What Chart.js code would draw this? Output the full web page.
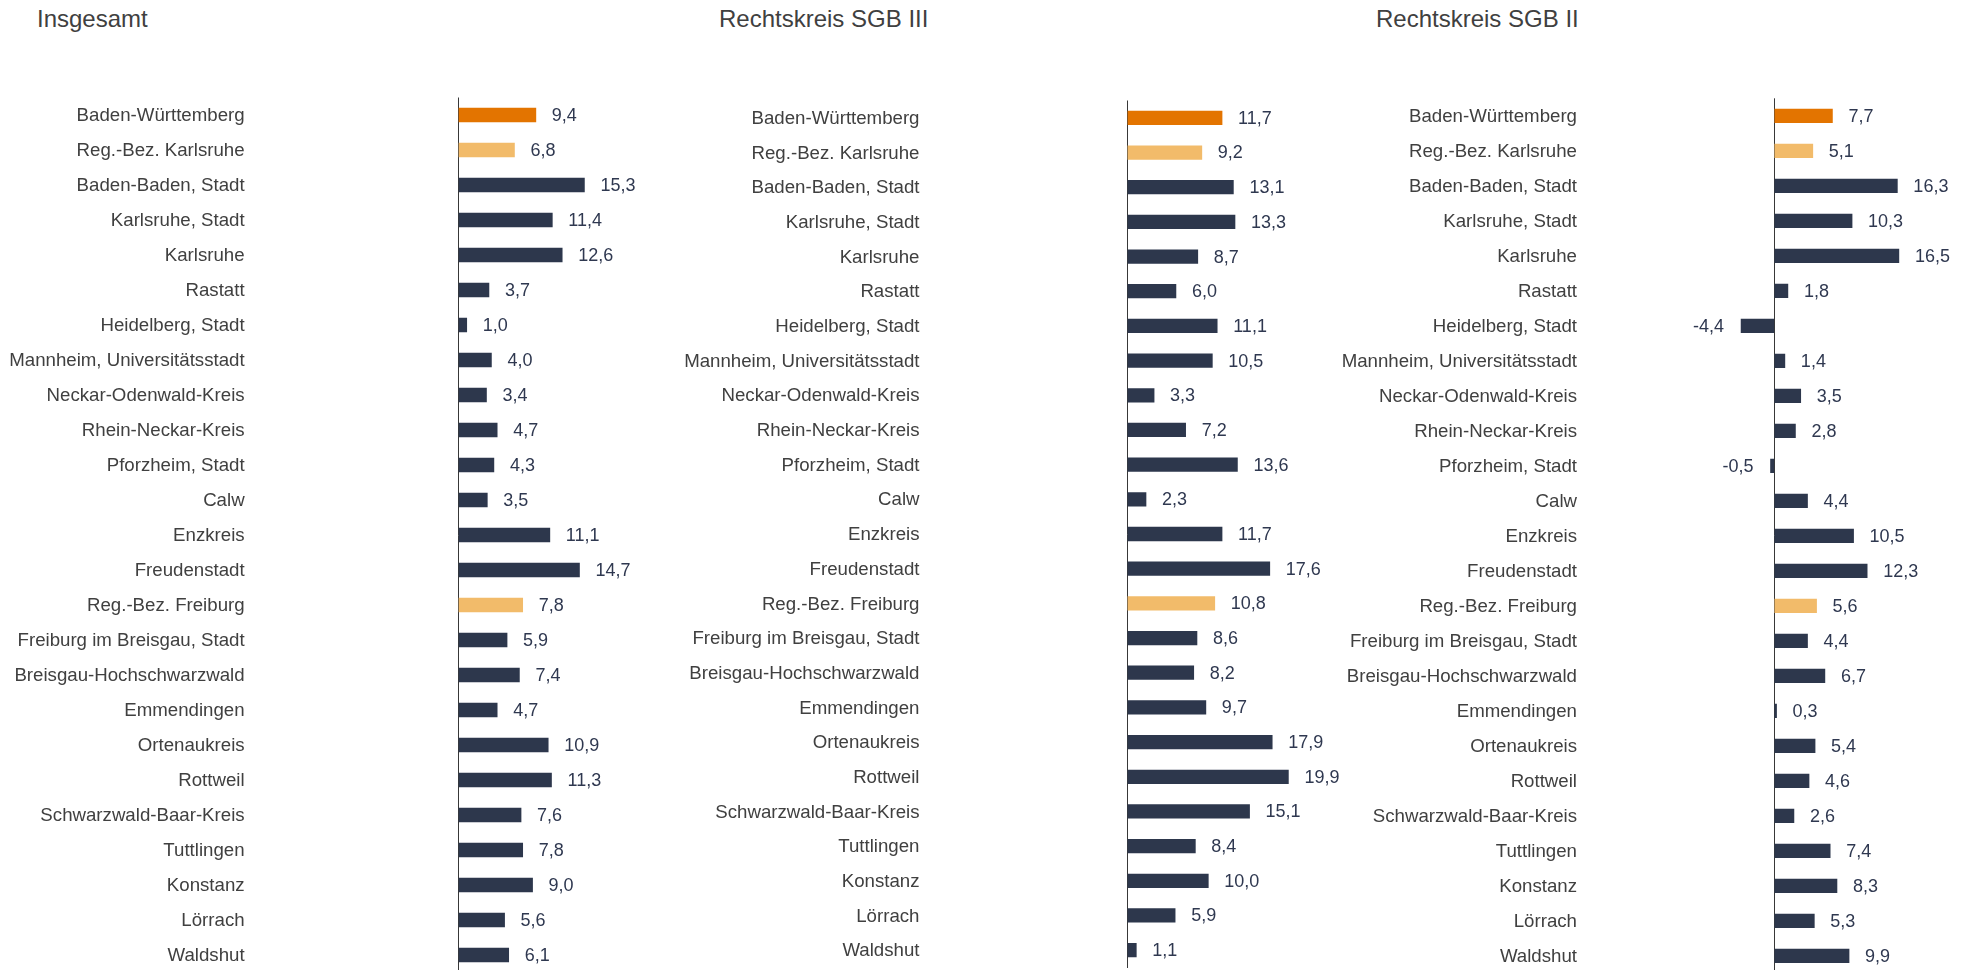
<!DOCTYPE html>
<html lang="de">
<head>
<meta charset="utf-8">
<title>Veränderung nach Rechtskreis</title>
<script src="https://cdn.jsdelivr.net/npm/chart.js@4.4.1/dist/chart.umd.min.js"></script>
<style>
  html, body { margin: 0; padding: 0; background: #ffffff; overflow: hidden; }
  #page { position: relative; width: 1967px; height: 970px; overflow: hidden; }
  canvas { position: absolute; left: 0; top: 0; }
  .title {
    position: absolute; top: 7px; margin: 0;
    font-family: "Liberation Sans", Arial, sans-serif;
    font-size: 24px; line-height: 24px; font-weight: normal;
    color: #404040; white-space: nowrap;
  }
</style>
</head>
<body>
<div id="page">
  <div class="title" style="left:37px">Insgesamt</div>
  <div class="title" style="left:719px">Rechtskreis SGB III</div>
  <div class="title" style="left:1376px">Rechtskreis SGB II</div>
  <canvas id="cInsgesamt" width="1967" height="1000"></canvas>
  <canvas id="cSgb3" width="1967" height="1000"></canvas>
  <canvas id="cSgb2" width="1967" height="1000"></canvas>
</div>
<script>
// Regions (rows, top to bottom)
const regions = [
  "Baden-Württemberg",
  "Reg.-Bez. Karlsruhe",
  "Baden-Baden, Stadt",
  "Karlsruhe, Stadt",
  "Karlsruhe",
  "Rastatt",
  "Heidelberg, Stadt",
  "Mannheim, Universitätsstadt",
  "Neckar-Odenwald-Kreis",
  "Rhein-Neckar-Kreis",
  "Pforzheim, Stadt",
  "Calw",
  "Enzkreis",
  "Freudenstadt",
  "Reg.-Bez. Freiburg",
  "Freiburg im Breisgau, Stadt",
  "Breisgau-Hochschwarzwald",
  "Emmendingen",
  "Ortenaukreis",
  "Rottweil",
  "Schwarzwald-Baar-Kreis",
  "Tuttlingen",
  "Konstanz",
  "Lörrach",
  "Waldshut"
];

// Change in percent
const insgesamt = [9.4, 6.8, 15.3, 11.4, 12.6, 3.7, 1.0, 4.0, 3.4, 4.7, 4.3, 3.5, 11.1, 14.7,
                   7.8, 5.9, 7.4, 4.7, 10.9, 11.3, 7.6, 7.8, 9.0, 5.6, 6.1];
const sgb3 = [11.7, 9.2, 13.1, 13.3, 8.7, 6.0, 11.1, 10.5, 3.3, 7.2, 13.6, 2.3, 11.7, 17.6,
              10.8, 8.6, 8.2, 9.7, 17.9, 19.9, 15.1, 8.4, 10.0, 5.9, 1.1];
const sgb2 = [7.7, 5.1, 16.3, 10.3, 16.5, 1.8, -4.4, 1.4, 3.5, 2.8, -0.5, 4.4, 10.5, 12.3,
              5.6, 4.4, 6.7, 0.3, 5.4, 4.6, 2.6, 7.4, 8.3, 5.3, 9.9];

// Row roles: state total, administrative districts, districts
const stateRows = ["Baden-Württemberg"];
const districtRows = ["Reg.-Bez. Karlsruhe", "Reg.-Bez. Freiburg"];

const COLORS = { state: "#e37400", district: "#f2bb6a", county: "#2d374c" };
const FONT = "'Liberation Sans', Arial, sans-serif";
const CANVAS_W = 1967, CANVAS_H = 1000;

function barColor(label) {
  if (stateRows.includes(label)) return COLORS.state;
  if (districtRows.includes(label)) return COLORS.district;
  return COLORS.county;
}

// Writes the value next to each bar, German decimal comma
const valueLabels = {
  id: "valueLabels",
  afterDatasetsDraw(chart) {
    const ctx = chart.ctx;
    const data = chart.data.datasets[0].data;
    ctx.save();
    ctx.font = "18px " + FONT;
    ctx.fillStyle = "#2f3850";
    ctx.textBaseline = "middle";
    chart.getDatasetMeta(0).data.forEach((bar, i) => {
      const v = data[i];
      const txt = v.toFixed(1).replace(".", ",");
      if (v < 0) {
        ctx.textAlign = "right";
        ctx.fillText(txt, bar.x - 17, bar.y + 1);
      } else {
        ctx.textAlign = "left";
        ctx.fillText(txt, bar.x + 16, bar.y + 1);
      }
    });
    ctx.restore();
  }
};

function makePanel(id, values, geo) {
  const tickPad = 10;
  const yAxisWidth = geo.labelRight + tickPad;
  const areaLeft = yAxisWidth;
  const xMin = -(geo.zeroX - areaLeft) / geo.pxPerUnit;
  const areaRight = geo.zeroX + geo.xMax * geo.pxPerUnit;
  const padRight = CANVAS_W - areaRight;
  const padBottom = CANVAS_H - (geo.top + regions.length * geo.rowH);

  return new Chart(document.getElementById(id), {
    type: "bar",
    data: {
      labels: regions,
      datasets: [{
        data: values,
        backgroundColor: regions.map(barColor),
        borderWidth: 0,
        barThickness: 13.6
      }]
    },
    options: {
      indexAxis: "y",
      responsive: false,
      animation: false,
      devicePixelRatio: 1,
      layout: { padding: { top: geo.top, bottom: padBottom, left: 0, right: padRight } },
      plugins: { legend: { display: false }, tooltip: { enabled: false }, title: { display: false } },
      scales: {
        y: {
          type: "category",
          grid: { display: false, drawTicks: false },
          border: { display: false },
          ticks: {
            autoSkip: false,
            padding: tickPad,
            labelOffset: 1,
            color: "#404040",
            font: { family: FONT, size: 18.67 }
          },
          afterFit(scale) { scale.width = yAxisWidth; }
        },
        x: {
          type: "linear",
          min: xMin,
          max: geo.xMax,
          border: { display: false },
          ticks: { display: false },
          grid: { color: "#383838", lineWidth: 1, drawTicks: false },
          afterBuildTicks(scale) { scale.ticks = [{ value: 0 }]; }
        }
      }
    },
    plugins: [valueLabels]
  });
}

makePanel("cInsgesamt", insgesamt, { labelRight: 244.6, zeroX: 458.5, pxPerUnit: 8.23, top: 97.5, rowH: 35.0, xMax: 20 });
makePanel("cSgb3", sgb3, { labelRight: 919.5, zeroX: 1127.4, pxPerUnit: 8.09, top: 100.5, rowH: 34.68, xMax: 22 });
makePanel("cSgb2", sgb2, { labelRight: 1577, zeroX: 1774.3, pxPerUnit: 7.55, top: 98.3, rowH: 35.0, xMax: 20 });
</script>
</body>
</html>
